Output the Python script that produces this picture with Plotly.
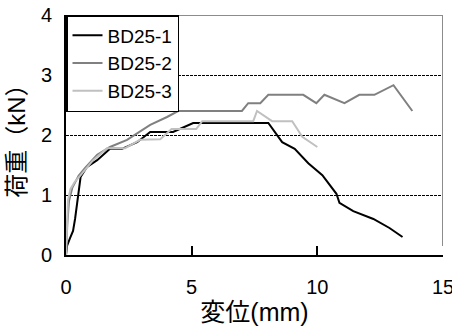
import plotly.graph_objects as go

# BD25-1 (black)
x1 = [0, 0.04, 0.16, 0.28, 0.36, 0.44, 0.48, 0.58, 0.84, 1.24, 1.75, 2.23, 2.83, 3.35, 4.26, 5.06, 6.0, 7.0, 8.05,
      8.6, 9.1, 9.64, 10.2, 10.76, 10.88, 11.43, 12.23, 12.87, 13.39]
y1 = [0, 0.15, 0.28, 0.4, 0.6, 0.87, 1.03, 1.3, 1.47, 1.58, 1.77, 1.77, 1.88, 2.05, 2.05, 2.2, 2.2, 2.2, 2.2,
      1.88, 1.77, 1.53, 1.33, 1.02, 0.87, 0.73, 0.6, 0.45, 0.3]

# BD25-2 (dark grey)
x2 = [0, 0.05, 0.12, 0.25, 0.5, 0.76, 1.24, 1.75, 2.43, 2.83, 3.35, 4.02, 4.46, 5.5, 6.5, 7.0, 7.25, 7.73, 8.05,
      8.7, 9.44, 9.96, 10.28, 11.08, 11.67, 12.27, 13.03, 13.78]
y2 = [0, 0.5, 0.9, 1.12, 1.32, 1.45, 1.67, 1.8, 1.92, 2.03, 2.17, 2.3, 2.4, 2.4, 2.4, 2.4, 2.53, 2.53, 2.67,
      2.67, 2.67, 2.53, 2.67, 2.53, 2.67, 2.67, 2.83, 2.4]

# BD25-3 (light grey)
x3 = [0, 0.03, 0.08, 0.18, 0.35, 0.56, 1.08, 1.63, 2.35, 2.95, 3.75, 4.2, 5.18, 5.42, 6.5, 7.45, 7.6, 8.2, 9.0,
      9.4, 10.0]
y3 = [0, 0.5, 0.92, 1.1, 1.22, 1.32, 1.58, 1.78, 1.78, 1.92, 1.93, 2.1, 2.1, 2.23, 2.23, 2.23, 2.4, 2.23, 2.23,
      1.97, 1.8]

names = ["BD25-1", "BD25-2", "BD25-3"]
colors = ["#000000", "#808080", "#c0c0c0"]

x_ticks = [0, 5, 10, 15]
y_ticks = [0, 1, 2, 3, 4]

FONT = "Liberation Sans, Arial, Noto Sans CJK JP"

fig = go.Figure()
for xs, ys, nm, c in zip([x1, x2, x3], [y1, y2, y3], names, colors):
    fig.add_trace(go.Scatter(x=xs, y=ys, mode="lines", name=nm,
                             line=dict(color=c, width=2)))

fig.update_layout(
    width=452, height=332,
    margin=dict(l=66, r=9, t=15, b=77, autoexpand=False),
    paper_bgcolor="white", plot_bgcolor="white",
    font=dict(family=FONT, color="black", size=20),
    showlegend=True,
    legend=dict(x=0, y=1, xanchor="left", yanchor="top",
                bgcolor="white", bordercolor="black", borderwidth=1.5,
                font=dict(size=19, family=FONT), itemwidth=30,
                tracegroupgap=0),
    xaxis=dict(range=[0, 15], tickvals=x_ticks, ticks="inside", ticklen=9,
               tickwidth=2, tickcolor="black", showline=True, linecolor="black",
               linewidth=2, showgrid=False, zeroline=False, automargin=False,
               ticklabeloverflow="allow",
               tickfont=dict(size=20), ticklabelstandoff=13,
               title=dict(text="変位(mm)", font=dict(size=25), standoff=0)),
    yaxis=dict(range=[0, 4], tickvals=y_ticks, ticks="", showline=True,
               linecolor="black", linewidth=2, showgrid=True, automargin=False,
               gridcolor="black", gridwidth=1, griddash="3px,1px",
               zeroline=False, tickfont=dict(size=20), ticklabelstandoff=8,
               title=dict(text="荷重（kN）", font=dict(size=24), standoff=8)),
    shapes=[
        dict(type="line", xref="x", yref="y", x0=0, x1=15, y0=4, y1=4,
             line=dict(color="#8c8c8c", width=2), layer="above"),
        dict(type="line", xref="x", yref="y", x0=15, x1=15, y0=0.15, y1=4,
             line=dict(color="#8c8c8c", width=2), layer="above"),
    ],
)

fig.write_html("out.html",
               config={"displayModeBar": False},
               post_script="document.body.style.margin='0';document.body.style.padding='0';document.body.style.overflow='hidden';")
